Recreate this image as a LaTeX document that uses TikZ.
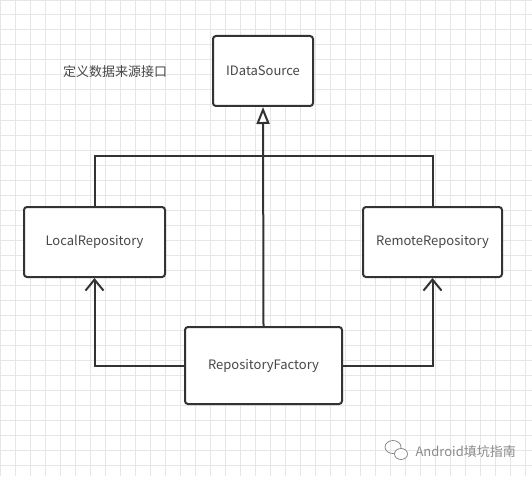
\documentclass[tikz,border=0pt]{standalone}
\usepackage{fontspec}
\newfontfamily\cjk{Noto Sans CJK SC}
\usetikzlibrary{arrows.meta}
\definecolor{ink}{HTML}{333333}
\definecolor{gridgray}{HTML}{E6E6E6}
\definecolor{markgray}{HTML}{8A8A8A}
\tikzset{
    classbox/.style={draw=ink, line width=2pt, rounded corners=3pt, fill=white,
        inner sep=0pt, font=\cjk\fontsize{13}{15}\selectfont, text=ink!90},
    link/.style={draw=ink, line width=2pt},
}

\begin{document}
\begin{tikzpicture}[x=1pt, y=-1pt]
    \useasboundingbox (0,0) rectangle (532,476);
    \fill[white] (0,0) rectangle (532,476);
    \begin{scope}[y=1pt]
        \draw[gridgray, line width=1pt] (0,-476) grid[step=15] (532,0);
    \end{scope}
    % classes
    \node[classbox, minimum width=100pt, minimum height=70pt] (source) at (263,71) {IDataSource};
    \node[classbox, minimum width=141pt, minimum height=70pt] (local) at (94.5,242) {LocalRepository};
    \node[classbox, minimum width=139pt, minimum height=70pt] (remote) at (432.5,242) {RemoteRepository};
    \node[classbox, minimum width=157pt, minimum height=77pt] (factory) at (263.5,365.5) {RepositoryFactory};
    \node[font=\cjk\fontsize{13}{15}\selectfont, text=ink!90] (note) at (115,72) {定义数据来源接口};
    % implements
    \draw[link, -{Triangle[open, length=17pt, width=13pt, fill=white]}] (factory.north) -- (source.south);
    \draw[link] (local.north) -- ++(0,-50) -| (remote.north);
    % creates
    \draw[link, -{Straight Barb[length=11pt, width=18pt]}] (factory.west) -| (local.south);
    \draw[link, -{Straight Barb[length=11pt, width=18pt]}] (factory.east) -| (remote.south);
    % watermark
    \draw[markgray, line width=0.8pt] (393,447) ellipse [x radius=8, y radius=6.5];
    \draw[markgray, line width=0.8pt, fill=white] (401,454) ellipse [x radius=6.5, y radius=5.5];
    \node[font=\cjk\fontsize{13}{15}\selectfont, text=markgray, anchor=west] (mark) at (412,452) {Android填坑指南};
\end{tikzpicture}
\end{document}
